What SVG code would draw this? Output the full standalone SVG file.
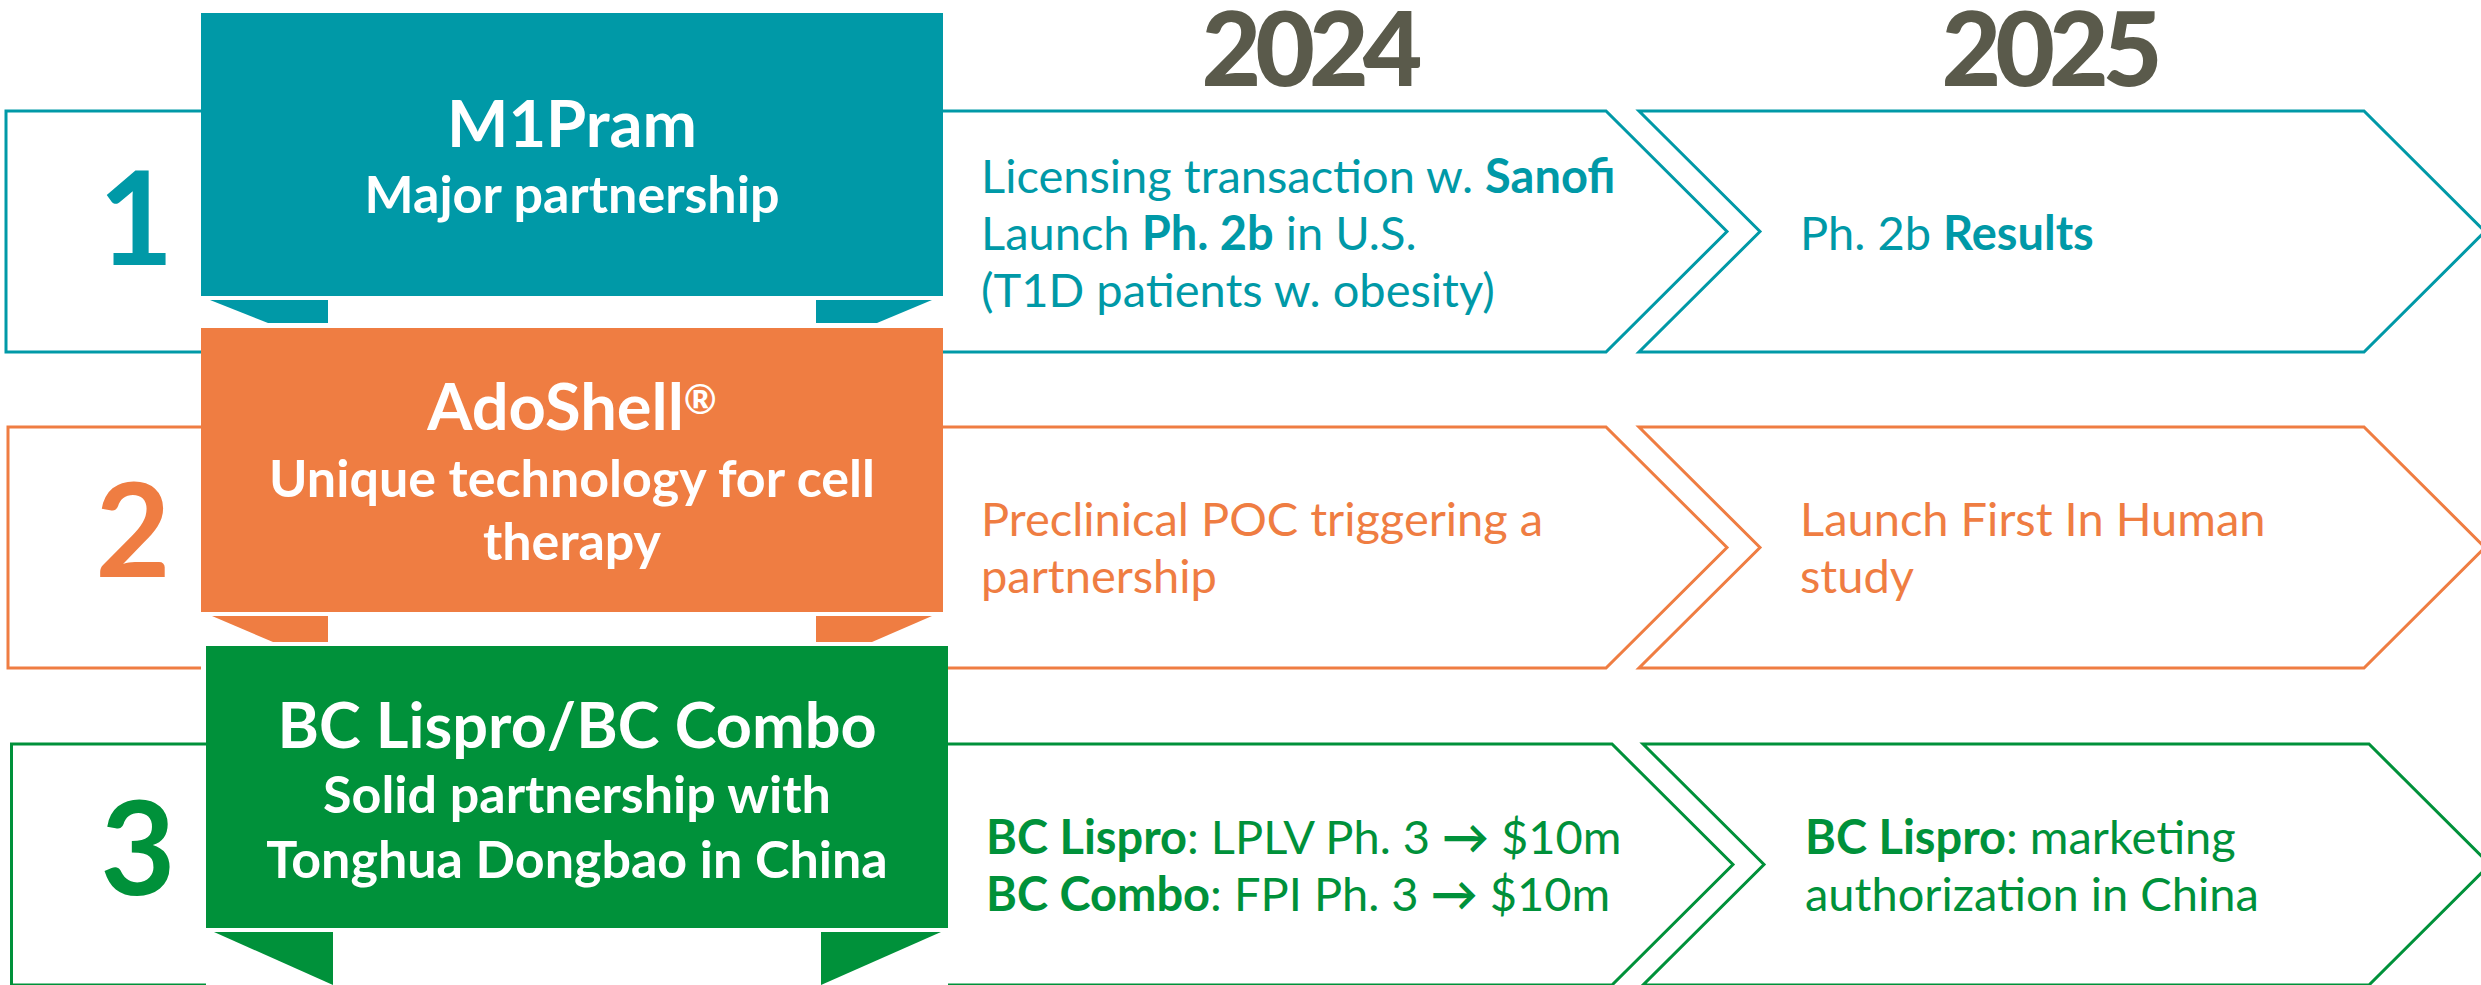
<svg xmlns="http://www.w3.org/2000/svg" width="2481" height="985" viewBox="0 0 2481 985">
<style>
text{font-family:Lato,"Liberation Sans",sans-serif}
.ol{fill:none;stroke-width:3;stroke-linejoin:miter}
.teal{fill:#0099A7}.tealS{stroke:#0099A7}
.orange{fill:#EF7D42}.orangeS{stroke:#EF7D42}
.green{fill:#00913A}.greenS{stroke:#00913A}
.year{fill:#5A5A4B;font-size:103px;font-weight:900;text-anchor:middle;letter-spacing:-6px}
.num{font-size:130px;font-weight:700;text-anchor:middle}
.title{fill:#fff;font-size:65px;font-weight:700;text-anchor:middle}
.sub{fill:#fff;font-size:52px;font-weight:700;text-anchor:middle}
.body{font-size:47px;font-weight:400}
.b{font-weight:700}
.sup{font-size:40px}
</style>
<rect width="2481" height="985" fill="#fff"/>
<g id="years">
<text class="year" x="1309" y="86">2024</text>
<text class="year" x="2049" y="86">2025</text>
</g>
<g id="connectors">
<path class="ol tealS" d="M201,111 H6 V352 H201"/>
<path class="ol tealS" d="M943,111 H1606 L1727,231.5 L1606,352 H943"/>
<path class="ol tealS" d="M1639,111 H2364 L2485,231.5 L2364,352 H1639 L1760,231.5 Z"/>
<path class="ol orangeS" d="M201,427 H8 V668 H201"/>
<path class="ol orangeS" d="M943,427 H1606 L1727,547.5 L1606,668 H943"/>
<path class="ol orangeS" d="M1639,427 H2364 L2485,547.5 L2364,668 H1639 L1760,547.5 Z"/>
<path class="ol greenS" d="M206,744 H11.5 V985 H206"/>
<path class="ol greenS" d="M948,744 H1612 L1733,864.5 L1612,985 H948"/>
<path class="ol greenS" d="M1643,744 H2369 L2490,864.5 L2369,985 H1643 L1764,864.5 Z"/>
</g>
<g id="node-m1pram">
<rect class="teal" x="201" y="13" width="742" height="283"/>
<polygon class="teal" points="210,300 328,300 328,323 268,323"/>
<polygon class="teal" points="816,300 932,300 877,323 816,323"/>
<text class="title" x="572" y="147">M1Pram</text>
<text class="sub" x="572" y="213">Major partnership</text>
<text class="num teal" x="136" y="265">1</text>
</g>
<g id="node-adoshell">
<rect class="orange" x="201" y="328" width="742" height="284"/>
<polygon class="orange" points="212,616 328,616 328,642 273,642"/>
<polygon class="orange" points="816,616 932,616 872,642 816,642"/>
<text class="title" x="572" y="430">AdoShell<tspan class="sup" dy="-16">®</tspan></text>
<text class="sub" x="572" y="497">Unique technology for cell</text>
<text class="sub" x="572" y="560">therapy</text>
<text class="num orange" x="133" y="577">2</text>
</g>
<g id="node-bc">
<rect class="green" x="206" y="646" width="742" height="282"/>
<polygon class="green" points="214,932 333,932 333,985"/>
<polygon class="green" points="821,932 941,932 821,985"/>
<text class="title" x="577" y="748" style="font-size:63px">BC Lispro/BC Combo</text>
<text class="sub" x="577" y="813">Solid partnership with</text>
<text class="sub" x="577" y="878">Tonghua Dongbao in China</text>
<text class="num green" x="138" y="895">3</text>
</g>
<g id="row1-2024">
<text class="body teal" x="981" y="193">Licensing transaction w. <tspan class="b">Sanofi</tspan></text>
<text class="body teal" x="981" y="250">Launch <tspan class="b">Ph. 2b</tspan> in U.S.</text>
<text class="body teal" x="981" y="307">(T1D patients w. obesity)</text>
</g>
<g id="row1-2025">
<text class="body teal" x="1800" y="250">Ph. 2b <tspan class="b">Results</tspan></text>
</g>
<g id="row2-2024">
<text class="body orange" x="981" y="536">Preclinical POC triggering a</text>
<text class="body orange" x="981" y="593">partnership</text>
</g>
<g id="row2-2025">
<text class="body orange" x="1800" y="536">Launch First In Human</text>
<text class="body orange" x="1800" y="593">study</text>
</g>
<g id="row3-2024">
<text class="body green" x="986" y="854"><tspan class="b">BC Lispro</tspan>: LPLV Ph. 3 <tspan class="b">→</tspan> $10m</text>
<text class="body green" x="986" y="911"><tspan class="b">BC Combo</tspan>: FPI Ph. 3 <tspan class="b">→</tspan> $10m</text>
</g>
<g id="row3-2025">
<text class="body green" x="1805" y="854"><tspan class="b">BC Lispro</tspan>: marketing</text>
<text class="body green" x="1805" y="911">authorization in China</text>
</g>
</svg>
